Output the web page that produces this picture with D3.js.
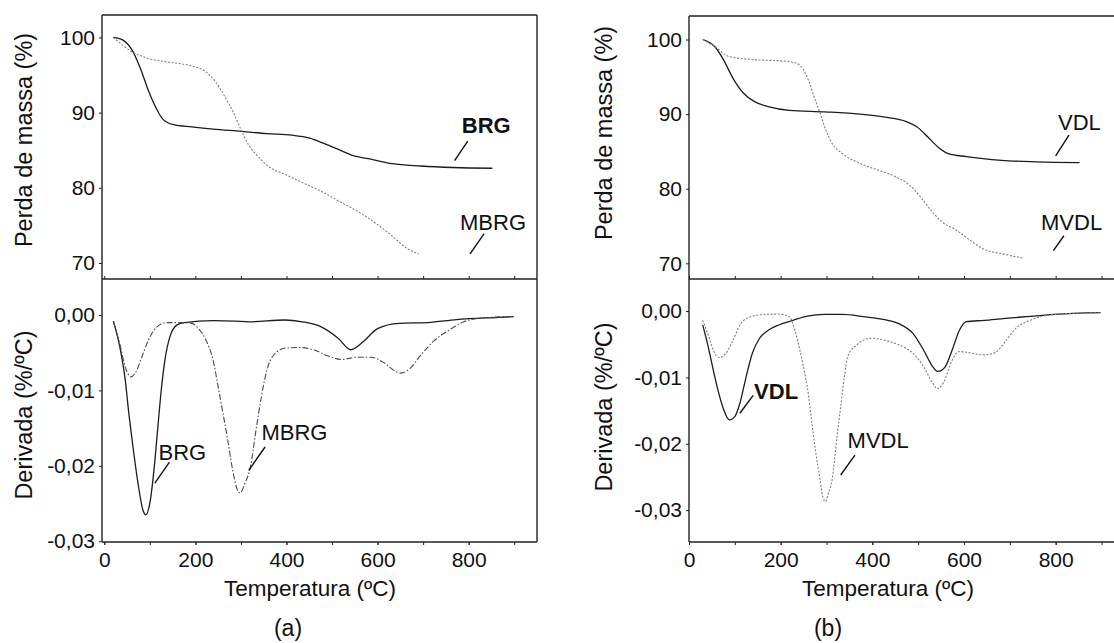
<!DOCTYPE html>
<html>
<head>
<meta charset="utf-8">
<script src="https://cdn.jsdelivr.net/npm/d3@7"></script>
<style>
  body { margin: 0; background: #fff; }
  svg { display: block; }
  text { font-family: "Liberation Sans", Arial, sans-serif; fill: #111; }
</style>
</head>
<body>
<svg id="chart" width="1114" height="643"></svg>
<script>
// tick labels
const tempTicks = [0, 200, 400, 600, 800];
const tempMinor = [0, 100, 200, 300, 400, 500, 600, 700, 800, 900];
const massTicks = [70, 80, 90, 100];
const derivTicks = [0, -0.01, -0.02, -0.03];

// (a) TG curves [temperature, mass %]
const tgBRG = [[20,100],[42,99.6],[62,98.2],[81,95.6],[97,92.9],[113,90.7],[129,89.1],[152,88.4],[192,88.1],[239,87.8],[302,87.5],[357,87.2],[412,87.0],[451,86.6],[482,85.9],[514,85.1],[545,84.3],[585,83.8],[632,83.2],[695,82.9],[765,82.7],[852,82.6]];
const tgMBRG = [[20,100],[58,98.2],[97,97.2],[144,96.7],[192,96.2],[219,95.6],[243,94.2],[262,92.4],[282,90.2],[298,88.0],[316,85.8],[340,84.0],[364,82.7],[396,81.8],[435,80.7],[474,79.6],[522,78.0],[569,76.4],[600,75.1],[632,73.6],[663,72.0],[690,71.2]];

// (a) DTG curves [temperature, %/ºC]
const dtgBRG = [[20,-0.0008],[34,-0.0042],[46,-0.0086],[54,-0.0131],[62,-0.0170],[74,-0.0223],[85,-0.0259],[91,-0.0265],[101,-0.0246],[109,-0.0206],[117,-0.0153],[125,-0.0100],[133,-0.0060],[144,-0.0029],[160,-0.0013],[176,-0.0010],[239,-0.00075],[286,-0.0008],[317,-0.0009],[396,-0.00066],[435,-0.0009],[474,-0.0015],[514,-0.0031],[541,-0.0046],[569,-0.0035],[600,-0.0018],[647,-0.0011],[710,-0.0010],[773,-0.0006],[867,-0.0003],[899,-0.0002]];
const dtgMBRG = [[20,-0.0009],[34,-0.0038],[46,-0.0069],[58,-0.0082],[70,-0.0075],[81,-0.0058],[97,-0.0033],[117,-0.0015],[136,-0.0010],[168,-0.0010],[192,-0.0011],[207,-0.0018],[223,-0.0033],[239,-0.0060],[250,-0.0095],[262,-0.0135],[270,-0.0162],[282,-0.0206],[290,-0.0228],[298,-0.0236],[309,-0.0223],[321,-0.0201],[333,-0.0153],[345,-0.0108],[357,-0.0073],[372,-0.0053],[396,-0.0044],[427,-0.0043],[459,-0.0046],[490,-0.0054],[522,-0.0059],[553,-0.0056],[585,-0.0056],[616,-0.0064],[640,-0.0075],[651,-0.0077],[671,-0.0071],[695,-0.0053],[726,-0.0033],[757,-0.0020],[789,-0.0009],[828,-0.0004],[899,-0.0002]];

// (b) TG curves
const tgVDL = [[30,100],[57,99.0],[76,97.2],[96,94.8],[119,92.8],[142,91.7],[173,91.0],[219,90.5],[296,90.3],[373,90.0],[427,89.6],[474,89.0],[497,88.3],[520,87.0],[543,85.6],[566,84.7],[605,84.3],[682,83.8],[759,83.6],[852,83.5]];
const tgMVDL = [[30,100],[57,99.0],[88,97.7],[142,97.3],[211,97.1],[235,96.8],[250,95.9],[262,94.3],[273,92.3],[285,90.3],[296,88.3],[312,86.1],[335,84.7],[373,83.4],[412,82.5],[451,81.6],[481,80.5],[505,78.9],[528,77.1],[551,75.6],[582,74.5],[613,73.1],[640,72.0],[690,71.2],[728,70.7]];

// (b) DTG curves
const dtgVDL = [[30,-0.0021],[42,-0.0054],[53,-0.0089],[65,-0.0124],[76,-0.0149],[88,-0.0164],[100,-0.0159],[111,-0.0139],[123,-0.0104],[138,-0.0064],[154,-0.0041],[173,-0.0029],[196,-0.0021],[227,-0.0014],[258,-0.00075],[296,-0.0005],[335,-0.0005],[381,-0.00085],[427,-0.0013],[458,-0.0019],[489,-0.0034],[512,-0.0059],[532,-0.0084],[543,-0.0091],[559,-0.0084],[574,-0.0059],[590,-0.0029],[605,-0.0016],[644,-0.0014],[690,-0.0011],[736,-0.00085],[798,-0.0005],[898,-0.00025]];
const dtgMVDL = [[30,-0.0014],[42,-0.0036],[53,-0.0059],[66,-0.0070],[80,-0.0064],[96,-0.0044],[111,-0.0021],[134,-0.00085],[165,-0.0005],[196,-0.00045],[219,-0.00085],[231,-0.0029],[242,-0.0059],[254,-0.0099],[258,-0.0114],[269,-0.0174],[277,-0.0215],[285,-0.0250],[292,-0.0280],[298,-0.0287],[304,-0.0275],[312,-0.0255],[323,-0.0189],[331,-0.0144],[339,-0.0099],[346,-0.0069],[366,-0.0051],[397,-0.0041],[427,-0.0044],[458,-0.0051],[489,-0.0064],[512,-0.0084],[532,-0.0109],[542,-0.0117],[556,-0.0107],[574,-0.0074],[590,-0.0061],[613,-0.0063],[644,-0.0066],[667,-0.0063],[690,-0.0046],[713,-0.0026],[744,-0.0014],[798,-0.0005],[898,-0.00025]];

const svg = d3.select("#chart");
const midY = 279, bottomY = 542;

const fmtDeriv = d3.formatLocale({ decimal: ",", thousands: ".", grouping: [3], currency: ["", ""], minus: "-" }).format(".2f");

const solid = { stroke: "#1c1c1c", width: 1.3, dash: null };
const dotted = { stroke: "#7d7d7d", width: 1.1, dash: "2 1.6" };
const dashDot = { stroke: "#4a4a4a", width: 1.1, dash: "6 2 1.5 2" };

const panels = [
  {
    name: "(a)", nameX: 288, xDomain: [-5, 950], xRange: [102, 537], top: 15,
    tgDomain: [67.87, 102.98], dtgDomain: [-0.0301, 0.00478], rightBorder: true,
    tg: [tgBRG, tgMBRG], dtg: [dtgBRG, dtgMBRG],
    tgStyle: [solid, dotted], dtgStyle: [solid, dashDot],
    titleX: 310, titleYX: 24, tgTitleY: 140, dtgTitleY: 415,
    notes: [
      { part: "tg", text: "BRG", bold: true, at: [785, 87.3], from: [769, 83.6], to: [798, 86.2] },
      { part: "tg", text: "MBRG", at: [781, 74.4], from: [803, 71.2], to: [834, 73.9] },
      { part: "dtg", text: "BRG", at: [119, -0.0192], from: [111, -0.0223], to: [143, -0.0195] },
      { part: "dtg", text: "MBRG", at: [345, -0.0166], from: [317, -0.0206], to: [353, -0.0175] }
    ]
  },
  {
    name: "(b)", nameX: 828, xDomain: [0, 960], xRange: [689, 1129], top: 16,
    tgDomain: [67.9, 103.15], dtgDomain: [-0.0348, 0.00483], rightBorder: false,
    tg: [tgVDL, tgMVDL], dtg: [dtgVDL, dtgMVDL],
    tgStyle: [solid, dotted], dtgStyle: [solid, dotted],
    titleX: 888, titleYX: 604, tgTitleY: 133, dtgTitleY: 407,
    notes: [
      { part: "tg", text: "VDL", at: [805, 87.9], from: [800, 84.4], to: [829, 87.2] },
      { part: "tg", text: "MVDL", at: [768, 74.5], from: [795, 71.7], to: [818, 73.7] },
      { part: "dtg", text: "VDL", bold: true, at: [142, -0.0132], from: [111, -0.0154], to: [140, -0.0127] },
      { part: "dtg", text: "MVDL", at: [346, -0.0207], from: [331, -0.0247], to: [362, -0.0217] }
    ]
  }
];

panels.forEach(p => {
  const g = svg.append("g");
  const x = d3.scaleLinear().domain(p.xDomain).range(p.xRange);
  const yTg = d3.scaleLinear().domain(p.tgDomain).range([midY, p.top]);
  const yDtg = d3.scaleLinear().domain(p.dtgDomain).range([bottomY, midY]);
  const x0 = p.xRange[0], x1 = Math.min(p.xRange[1], 1114);

  // frame
  const frame = g.append("g").attr("stroke", "#222").attr("stroke-width", 1.4).attr("fill", "none");
  frame.append("line").attr("x1", x0).attr("x2", x1).attr("y1", p.top).attr("y2", p.top);
  frame.append("line").attr("x1", x0).attr("x2", x1).attr("y1", midY).attr("y2", midY);
  frame.append("line").attr("x1", x0).attr("x2", x1).attr("y1", bottomY).attr("y2", bottomY);
  frame.append("line").attr("x1", x0).attr("x2", x0).attr("y1", p.top).attr("y2", bottomY);
  if (p.rightBorder) {
    frame.append("line").attr("x1", x1).attr("x2", x1).attr("y1", p.top).attr("y2", bottomY);
  }

  // axes
  const axTg = g.append("g").attr("transform", `translate(${x0},0)`)
    .call(d3.axisLeft(yTg).tickValues(massTicks).tickSize(3).tickPadding(4).tickSizeOuter(0));
  const axDtg = g.append("g").attr("transform", `translate(${x0},0)`)
    .call(d3.axisLeft(yDtg).tickValues(derivTicks).tickFormat(fmtDeriv).tickSize(3).tickPadding(4).tickSizeOuter(0));
  const axX = g.append("g").attr("transform", `translate(0,${bottomY})`)
    .call(d3.axisBottom(x).tickValues(tempTicks).tickSize(3).tickPadding(7).tickSizeOuter(0));
  const axMinor = g.append("g").attr("transform", `translate(0,${bottomY})`)
    .call(d3.axisBottom(x).tickValues(tempMinor).tickFormat("").tickSize(3).tickSizeOuter(0));
  const axMid = g.append("g").attr("transform", `translate(0,${midY})`)
    .call(d3.axisTop(x).tickValues(tempMinor).tickFormat("").tickSize(3).tickSizeOuter(0));

  [axTg, axDtg, axX, axMinor, axMid].forEach(a => {
    a.select(".domain").remove();
    a.selectAll("line").attr("stroke", "#222");
    a.selectAll("text").style("font-size", "21px").attr("fill", "#111");
  });

  // curves
  const lineTg = d3.line().x(d => x(d[0])).y(d => yTg(d[1])).curve(d3.curveMonotoneX);
  const lineDtg = d3.line().x(d => x(d[0])).y(d => yDtg(d[1])).curve(d3.curveMonotoneX);
  p.tg.forEach((s, i) => {
    const st = p.tgStyle[i];
    g.append("path").attr("d", lineTg(s)).attr("fill", "none")
      .attr("stroke", st.stroke).attr("stroke-width", st.width)
      .attr("stroke-dasharray", st.dash);
  });
  p.dtg.forEach((s, i) => {
    const st = p.dtgStyle[i];
    g.append("path").attr("d", lineDtg(s)).attr("fill", "none")
      .attr("stroke", st.stroke).attr("stroke-width", st.width)
      .attr("stroke-dasharray", st.dash);
  });

  // series labels with pointer strokes
  p.notes.forEach(n => {
    const y = n.part === "tg" ? yTg : yDtg;
    g.append("text").attr("x", x(n.at[0])).attr("y", y(n.at[1]))
      .style("font-size", "22px").style("font-weight", n.bold ? "bold" : "normal")
      .text(n.text);
    g.append("line")
      .attr("x1", x(n.from[0])).attr("y1", y(n.from[1]))
      .attr("x2", x(n.to[0])).attr("y2", y(n.to[1]))
      .attr("stroke", "#111").attr("stroke-width", 1.4);
  });

  // axis titles
  g.append("text").attr("x", p.titleX).attr("y", 596).attr("text-anchor", "middle")
    .style("font-size", "22.5px").text("Temperatura (ºC)");
  g.append("text").attr("x", p.nameX).attr("y", 636).attr("text-anchor", "middle")
    .style("font-size", "23px").text(p.name);
  g.append("text").attr("transform", `translate(${p.titleYX},${p.tgTitleY}) rotate(-90)`)
    .attr("text-anchor", "middle").attr("dy", "0.35em")
    .style("font-size", "23.5px").text("Perda de massa (%)");
  g.append("text").attr("transform", `translate(${p.titleYX},${p.dtgTitleY}) rotate(-90)`)
    .attr("text-anchor", "middle").attr("dy", "0.35em")
    .style("font-size", "23.5px").text("Derivada (%/ºC)");
});
</script>
</body>
</html>
